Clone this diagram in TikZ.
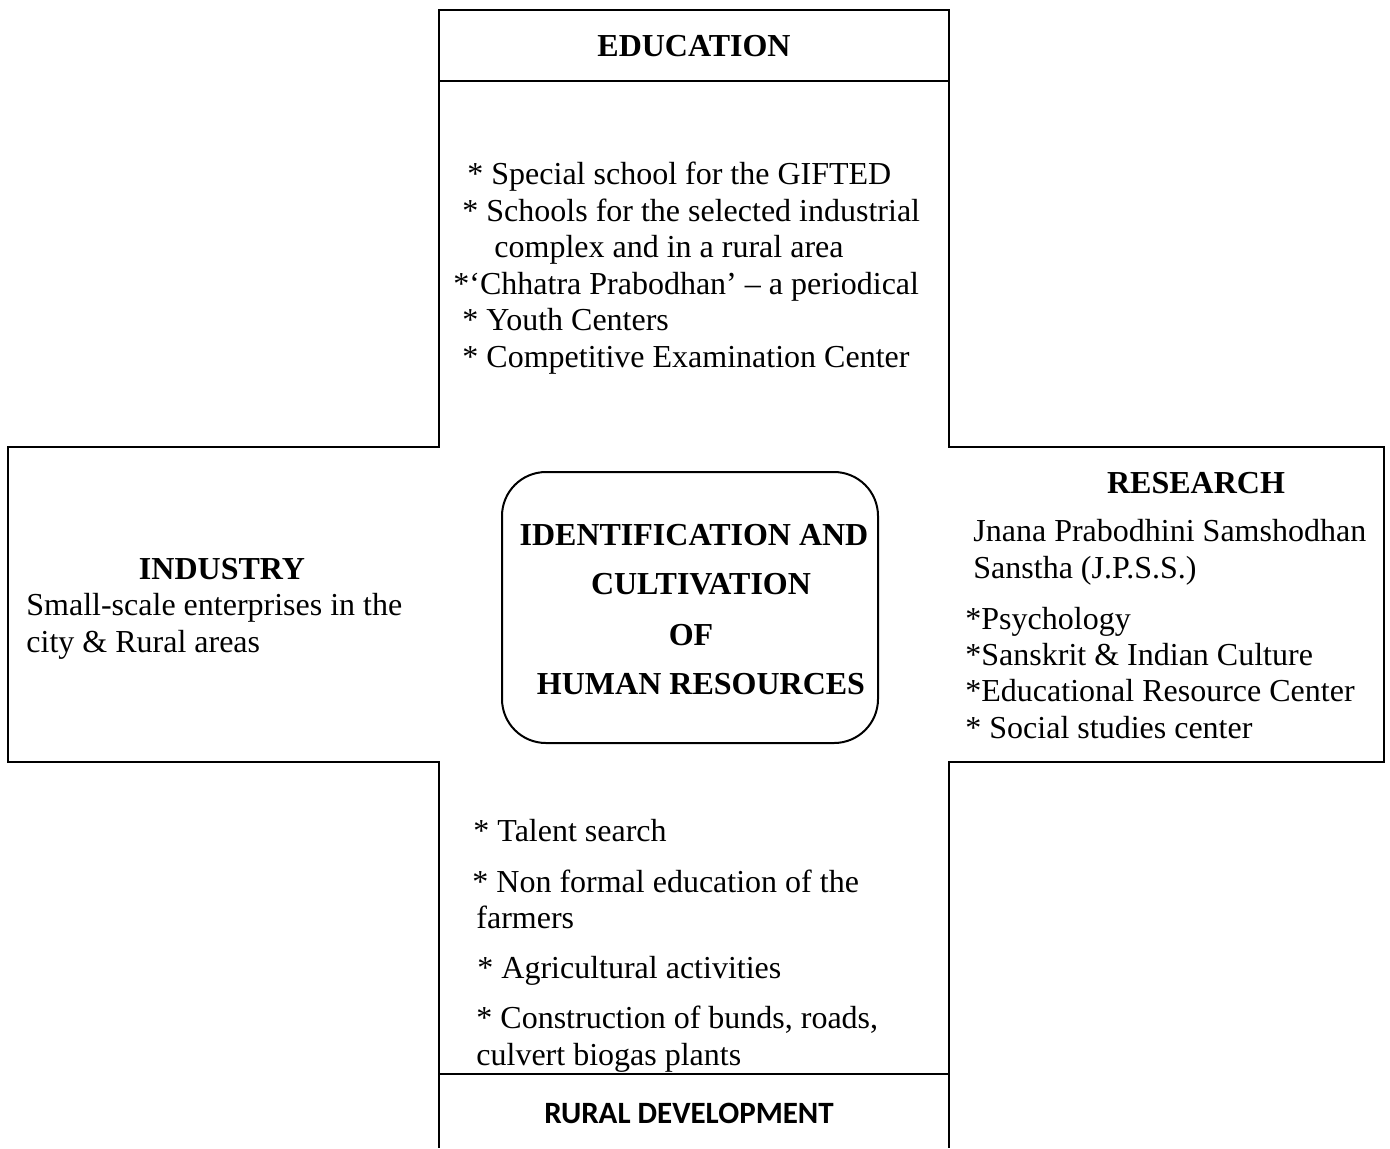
\documentclass[tikz,border=0pt]{standalone}
\usepackage{fontspec}
\setmainfont{Liberation Serif}
\newfontfamily\calib{Carlito}
\begin{document}
\begin{tikzpicture}[x=0.5pt,y=-0.5pt,
  frame/.style={line width=1pt,draw=black},
  txt/.style={inner sep=0pt,anchor=base west,font=\fontsize{16}{18}\selectfont},
  head/.style={inner sep=0pt,anchor=base,font=\fontsize{16}{18}\selectfont\bfseries},
  sanshead/.style={inner sep=0pt,anchor=base,font=\fontsize{15.5}{18}\selectfont\calib\bfseries}]
\useasboundingbox (0,0) rectangle (1390,1148);
% cross outline
\draw[frame] (439,10) rectangle (949,81);
\draw[frame] (439,81) -- (439,447) -- (8,447) -- (8,762) -- (439,762) -- (439,1148);
\draw[frame] (949,81) -- (949,447) -- (1384,447) -- (1384,762) -- (949,762) -- (949,1148);
\draw[frame] (439,1074) -- (949,1074);
% centre
\draw[frame,rounded corners=22pt] (502,472) rectangle (878,743);
% education
\node[head] (edu) at (694,56) {EDUCATION};
\node[txt] (e1) at (467,184) {* Special school for the GIFTED};
\node[txt] (e2) at (462,221) {* Schools for the selected industrial};
\node[txt] (e3) at (494,257) {complex and in a rural area};
\node[txt] (e4) at (453,294) {*‘Chhatra Prabodhan’ – a periodical};
\node[txt] (e5) at (462,330) {* Youth Centers};
\node[txt] (e6) at (462,367) {* Competitive Examination Center};
% industry
\node[head] (ind) at (222,579) {INDUSTRY};
\node[txt] (i1) at (26,615) {Small-scale enterprises in the};
\node[txt] (i2) at (26,652) {city \& Rural areas};
% research
\node[head] (res) at (1196,493) {RESEARCH};
\node[txt] (r1) at (973,541) {Jnana Prabodhini Samshodhan};
\node[txt] (r2) at (973,578) {Sanstha (J.P.S.S.)};
\node[txt] (r3) at (965,629) {*Psychology};
\node[txt] (r4) at (965,665) {*Sanskrit \& Indian Culture};
\node[txt] (r5) at (965,701) {*Educational Resource Center};
\node[txt] (r6) at (965,738) {* Social studies center};
% centre text
\node[head] (c1) at (694,545) {IDENTIFICATION AND};
\node[head] (c2) at (701,594) {CULTIVATION};
\node[head] (c3) at (691,645) {OF};
\node[head] (c4) at (701,694) {HUMAN RESOURCES};
% rural
\node[txt] (d1) at (473,841) {* Talent search};
\node[txt] (d2) at (472,892) {* Non formal education of the};
\node[txt] (d3) at (476,928) {farmers};
\node[txt] (d4) at (477,978) {* Agricultural activities};
\node[txt] (d5) at (476,1028) {* Construction of bunds, roads,};
\node[txt] (d6) at (476,1065) {culvert biogas plants};
\node[sanshead] (rur) at (689,1123) {RURAL DEVELOPMENT};
\end{tikzpicture}
\end{document}
